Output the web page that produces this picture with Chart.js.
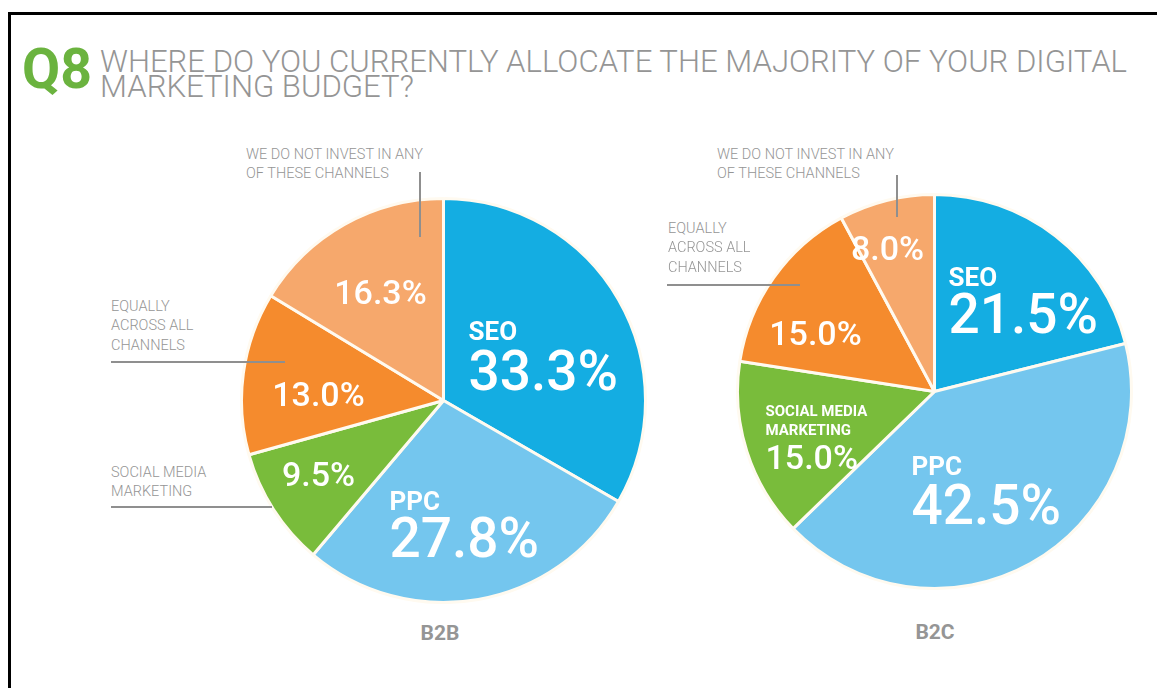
<!DOCTYPE html>
<html>
<head>
<meta charset="utf-8">
<script src="https://cdn.jsdelivr.net/npm/chart.js@4.4.1/dist/chart.umd.min.js"></script>
<style>
  html, body { margin: 0; padding: 0; background: #fff; }
  body { width: 1157px; height: 688px; position: relative; overflow: hidden;
         font-family: Roboto, "Liberation Sans", sans-serif; }
  .frame { position: absolute; left: 8px; top: 12px; width: 1200px; height: 720px;
           border-top: 3px solid #000; border-left: 3px solid #000; box-sizing: border-box; }
  .txt { position: absolute; white-space: nowrap; line-height: 1; transform-origin: 0 0; }
  .rule { position: absolute; background: #8f8f8f; }
  canvas { position: absolute; }
</style>
</head>
<body>
<div class="frame"></div>
<canvas id="b2b"></canvas>
<canvas id="b2c"></canvas>

<script>
// ---- data ----
const categories = ['SEO', 'PPC', 'Social Media Marketing', 'Equally across all channels',
                    'We do not invest in any of these channels'];
const b2bShares = [33.3, 27.8, 9.5, 13.0, 16.3];
const b2cShares = [21.5, 42.5, 15.0, 15.0, 8.0];
const segmentNames = ['B2B', 'B2C'];
const sliceColors = ['#14ade2', '#74c6ee', '#79bc3b', '#f58b2d', '#f6a86c'];

const FONT = 'Roboto, "Liberation Sans", sans-serif';
const GREY = '#959595';

// place a single line of text with its baseline at y
function put(text, x, y, size, weight, color, opts) {
  opts = opts || {};
  const el = document.createElement('div');
  el.className = 'txt';
  el.textContent = text;
  el.style.fontSize = size + 'px';
  el.style.fontWeight = weight;
  el.style.color = color;
  el.style.top = (y - 0.842 * size) + 'px';
  document.body.appendChild(el);
  let sx = opts.scale || 1;
  if (opts.width) sx = opts.width / el.getBoundingClientRect().width;
  const w = el.getBoundingClientRect().width * sx;
  el.style.left = (opts.align === 'center' ? x - w / 2 : x) + 'px';
  el.style.transform = 'scaleX(' + sx + ')';
  return sx;
}

function rule(x, y, w, h) {
  const el = document.createElement('div');
  el.className = 'rule';
  Object.assign(el.style, { left: x + 'px', top: y + 'px', width: w + 'px', height: h + 'px' });
  document.body.appendChild(el);
}

// heading
put('Q8', 22, 88, 56, 700, '#6bb33f', { width: 70 });
const titleScale = put('WHERE DO YOU CURRENTLY ALLOCATE THE MAJORITY OF YOUR DIGITAL', 100, 72, 31, 300, GREY, { width: 1027 });
put('MARKETING BUDGET?', 100, 97, 31, 300, GREY, { scale: titleScale });

// side notes with their pointer rules
function note(lines, x, y) {
  lines.forEach((l, i) => put(l, x, y + i * 19.5, 14.5, 300, GREY));
}
note(['WE DO NOT INVEST IN ANY', 'OF THESE CHANNELS'], 246, 160);
rule(419, 172, 1.5, 65);
note(['EQUALLY', 'ACROSS ALL', 'CHANNELS'], 111, 312);
rule(111, 361, 174, 1.5);
note(['SOCIAL MEDIA', 'MARKETING'], 111, 478);
rule(111, 506, 161, 1.5);

note(['WE DO NOT INVEST IN ANY', 'OF THESE CHANNELS'], 717, 160);
rule(896, 175, 1.5, 42);
note(['EQUALLY', 'ACROSS ALL', 'CHANNELS'], 668, 234);
rule(667, 284, 133, 1.5);

// pie captions
put(segmentNames[0], 440, 641, 21, 700, GREY, { align: 'center' });
put(segmentNames[1], 935, 640, 21, 700, GREY, { align: 'center' });

// text inside the slices, offsets measured from the pie centre
const sliceText = {
  id: 'sliceText',
  afterDatasetsDraw(chart, args, opts) {
    const { ctx } = chart;
    const meta = chart.getDatasetMeta(0);
    const values = chart.data.datasets[0].data;
    ctx.save();
    ctx.fillStyle = '#ffffff';
    opts.items.forEach(it => {
      const arc = meta.data[it.i];
      const cx = arc.x, cy = arc.y;
      ctx.textAlign = it.align;
      ctx.textBaseline = 'alphabetic';
      (it.head || []).forEach((h, k) => {
        ctx.font = '700 ' + it.headSize + 'px ' + FONT;
        ctx.fillText(h, cx + it.x, cy + it.hy[k] + 0.355 * it.headSize);
      });
      ctx.font = '500 ' + it.size + 'px ' + FONT;
      ctx.fillText(values[it.i].toFixed(1) + '%', cx + it.x, cy + it.vy + 0.355 * it.size);
    });
    ctx.restore();
  }
};

function makePie(id, shares, radius, cx, cy, items) {
  const border = 3;
  const size = 2 * radius + border;
  const canvas = document.getElementById(id);
  canvas.width = size;
  canvas.height = size;
  canvas.style.left = (cx - size / 2) + 'px';
  canvas.style.top = (cy - size / 2) + 'px';
  return new Chart(canvas, {
    type: 'pie',
    data: {
      labels: categories,
      datasets: [{
        data: shares,
        backgroundColor: sliceColors,
        borderColor: '#fffaf0',
        borderWidth: border
      }]
    },
    options: {
      responsive: false,
      animation: false,
      layout: { padding: 0 },
      plugins: {
        legend: { display: false },
        tooltip: { enabled: false },
        sliceText: { items }
      }
    },
    plugins: [sliceText]
  });
}

makePie('b2b', b2bShares, 202, 443.5, 400, [
  { i: 0, head: ['SEO'], headSize: 26, hy: [-70], x: 25, vy: -30, size: 55, align: 'left' },
  { i: 1, head: ['PPC'], headSize: 26, hy: [100], x: -54, vy: 137, size: 55, align: 'left' },
  { i: 2, x: -125, vy: 73, size: 34, align: 'center' },
  { i: 3, x: -125, vy: -7, size: 34, align: 'center' },
  { i: 4, x: -63, vy: -109, size: 34, align: 'center' }
]);

makePie('b2c', b2cShares, 197, 934, 391, [
  { i: 0, head: ['SEO'], headSize: 26, hy: [-115], x: 14, vy: -78, size: 55, align: 'left' },
  { i: 1, head: ['PPC'], headSize: 26, hy: [74], x: -23, vy: 113, size: 55, align: 'left' },
  { i: 2, head: ['SOCIAL MEDIA', 'MARKETING'], headSize: 15, hy: [19, 38], x: -169, vy: 65, size: 34, align: 'left' },
  { i: 3, x: -119, vy: -59, size: 34, align: 'center' },
  { i: 4, x: -47, vy: -144, size: 34, align: 'center' }
]);
</script>
</body>
</html>
